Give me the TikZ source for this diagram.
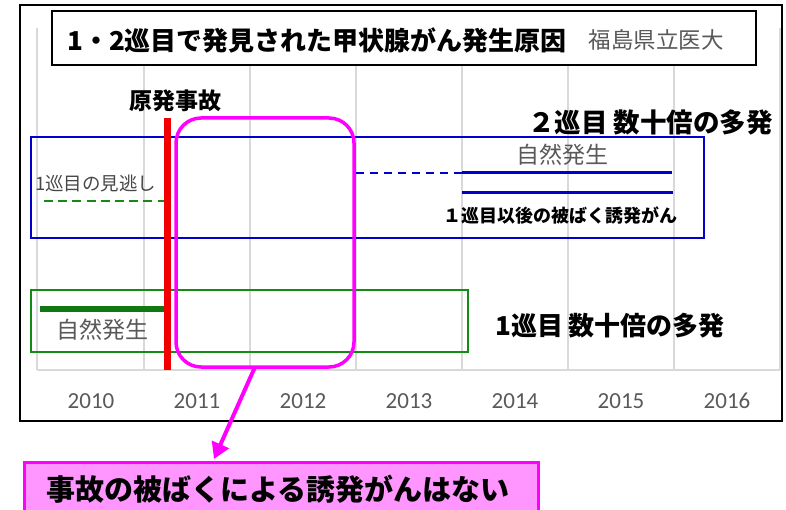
\documentclass[tikz,border=0pt]{standalone}
\usepackage{fontspec}
\setmainfont{Noto Sans CJK JP}
\newfontfamily\yrfont{Carlito}
\usetikzlibrary{arrows.meta}
\definecolor{mag}{RGB}{255,0,255}
\definecolor{pinkfill}{RGB}{255,150,255}
\definecolor{bl}{RGB}{0,0,205}
\definecolor{gr}{RGB}{20,140,20}
\definecolor{gridc}{RGB}{217,217,217}
\definecolor{txtgray}{RGB}{89,89,89}
\definecolor{redl}{RGB}{240,0,0}
\tikzset{
  gridline/.style={draw=gridc, line width=1.5pt},
  yearlbl/.style={font=\yrfont\fontsize{23}{25}\selectfont, text=txtgray},
  boldlbl/.style={font=\bfseries\fontsize{26}{28}\selectfont, text=black, inner sep=0pt},
  graylbl/.style={font=\fontsize{23}{25}\selectfont, text=txtgray, inner sep=0pt},
}
\begin{document}
\begin{tikzpicture}[x=1pt,y=-1pt]
\useasboundingbox (0,0) rectangle (786,510);
% outer frame
\draw[line width=1.5pt, black] (20,5) rectangle (782,421);
% grid
\foreach \gx in {37,780} \draw[gridline] (\gx,28) -- (\gx,370);
\foreach \gx in {144,250,356,462,568,674} \draw[gridline] (\gx,65) -- (\gx,370);
\draw[gridline] (37,370) -- (780,370);
% years
\foreach \yx/\yy in {91/2010,197/2011,303/2012,409/2013,515/2014,621/2015,727/2016}
  \node[yearlbl] (y\yy) at (\yx,401) {\yy};
% title
\node[draw=black, line width=1.5pt, fill=white, minimum width=704pt, minimum height=54pt, inner sep=0pt] (title) at (404,38) {};
\node[font=\bfseries\fontsize{26}{28}\selectfont, anchor=west, inner sep=0pt] (ttl) at (67,40) {1・2巡目で発見された甲状腺がん発生原因};
\node[font=\fontsize{22.5}{26}\selectfont, text=txtgray, anchor=east, inner sep=0pt] (inst) at (724,40) {福島県立医大};
% accident label
\node[font=\bfseries\fontsize{23}{26}\selectfont, inner sep=0pt] (acc) at (175,101) {原発事故};
% round 2 label
\node[boldlbl, anchor=east, font=\bfseries\fontsize{26.5}{28}\selectfont] (r2) at (773,122) {２巡目 数十倍の多発};
% blue box
\node[draw=bl, line width=2.3pt, minimum width=673pt, minimum height=101pt, inner sep=0pt] (bbox) at (367.5,187.5) {};
\node[font=\fontsize{18.5}{20}\selectfont, text=txtgray!80!black, anchor=west, inner sep=0pt] (miss) at (35,183) {1巡目の見逃し};
\coordinate (gd1) at (44,201);
\coordinate (gd2) at (170,201);
\draw[gr, line width=2.8pt, dash pattern=on 9pt off 5.2pt] (gd1) -- (gd2);
\node[graylbl] (nat2) at (562,155) {自然発生};
\coordinate (bd1) at (356,173);
\coordinate (bd2) at (462,173);
\coordinate (bd3) at (672,173);
\coordinate (bs1) at (462,193);
\coordinate (bs2) at (673,193);
\draw[bl, line width=2.2pt, dash pattern=on 8pt off 6pt] (bd1) -- (bd2);
\draw[bl, line width=3pt] (bd2) -- (bd3);
\draw[bl, line width=3pt] (bs1) -- (bs2);
\node[font=\bfseries\fontsize{18}{20}\selectfont, inner sep=0pt] (ind) at (560,216) {１巡目以後の被ばく誘発がん};
% green box
\node[draw=gr, line width=2.2pt, minimum width=437pt, minimum height=62pt, inner sep=0pt] (gbox) at (249.5,321) {};
\coordinate (gs1) at (40,309);
\coordinate (gs2) at (167,309);
\draw[gr!85!black, line width=6pt] (gs1) -- (gs2);
\node[graylbl] (nat1) at (102,330) {自然発生};
\node[boldlbl, anchor=west] (r1) at (495,326) {1巡目 数十倍の多発};
% red accident line
\coordinate (rl1) at (167,118);
\coordinate (rl2) at (167,370);
\draw[redl, line width=7pt] (rl1) -- (rl2);
% magenta rounded box
\node[draw=mag, line width=3.5pt, rounded corners=25pt, minimum width=178pt, minimum height=249pt, inner sep=0pt] (mbox) at (265,242.5) {};
% pink conclusion box
\node[draw=mag, fill=pinkfill, line width=3pt, minimum width=514pt, minimum height=56pt, inner sep=0pt, anchor=north west] (concl) at (23,461) {};
\node[font=\bfseries\fontsize{29}{32}\selectfont, inner sep=0pt] (ctext) at (278,489) {事故の被ばくによる誘発がんはない};
\coordinate (a1) at (255,367);
\coordinate (a2) at (214,459);
\draw[mag, line width=4pt, -{Triangle[length=16pt,width=18pt]}] (a1) -- (a2);
\end{tikzpicture}
\end{document}
